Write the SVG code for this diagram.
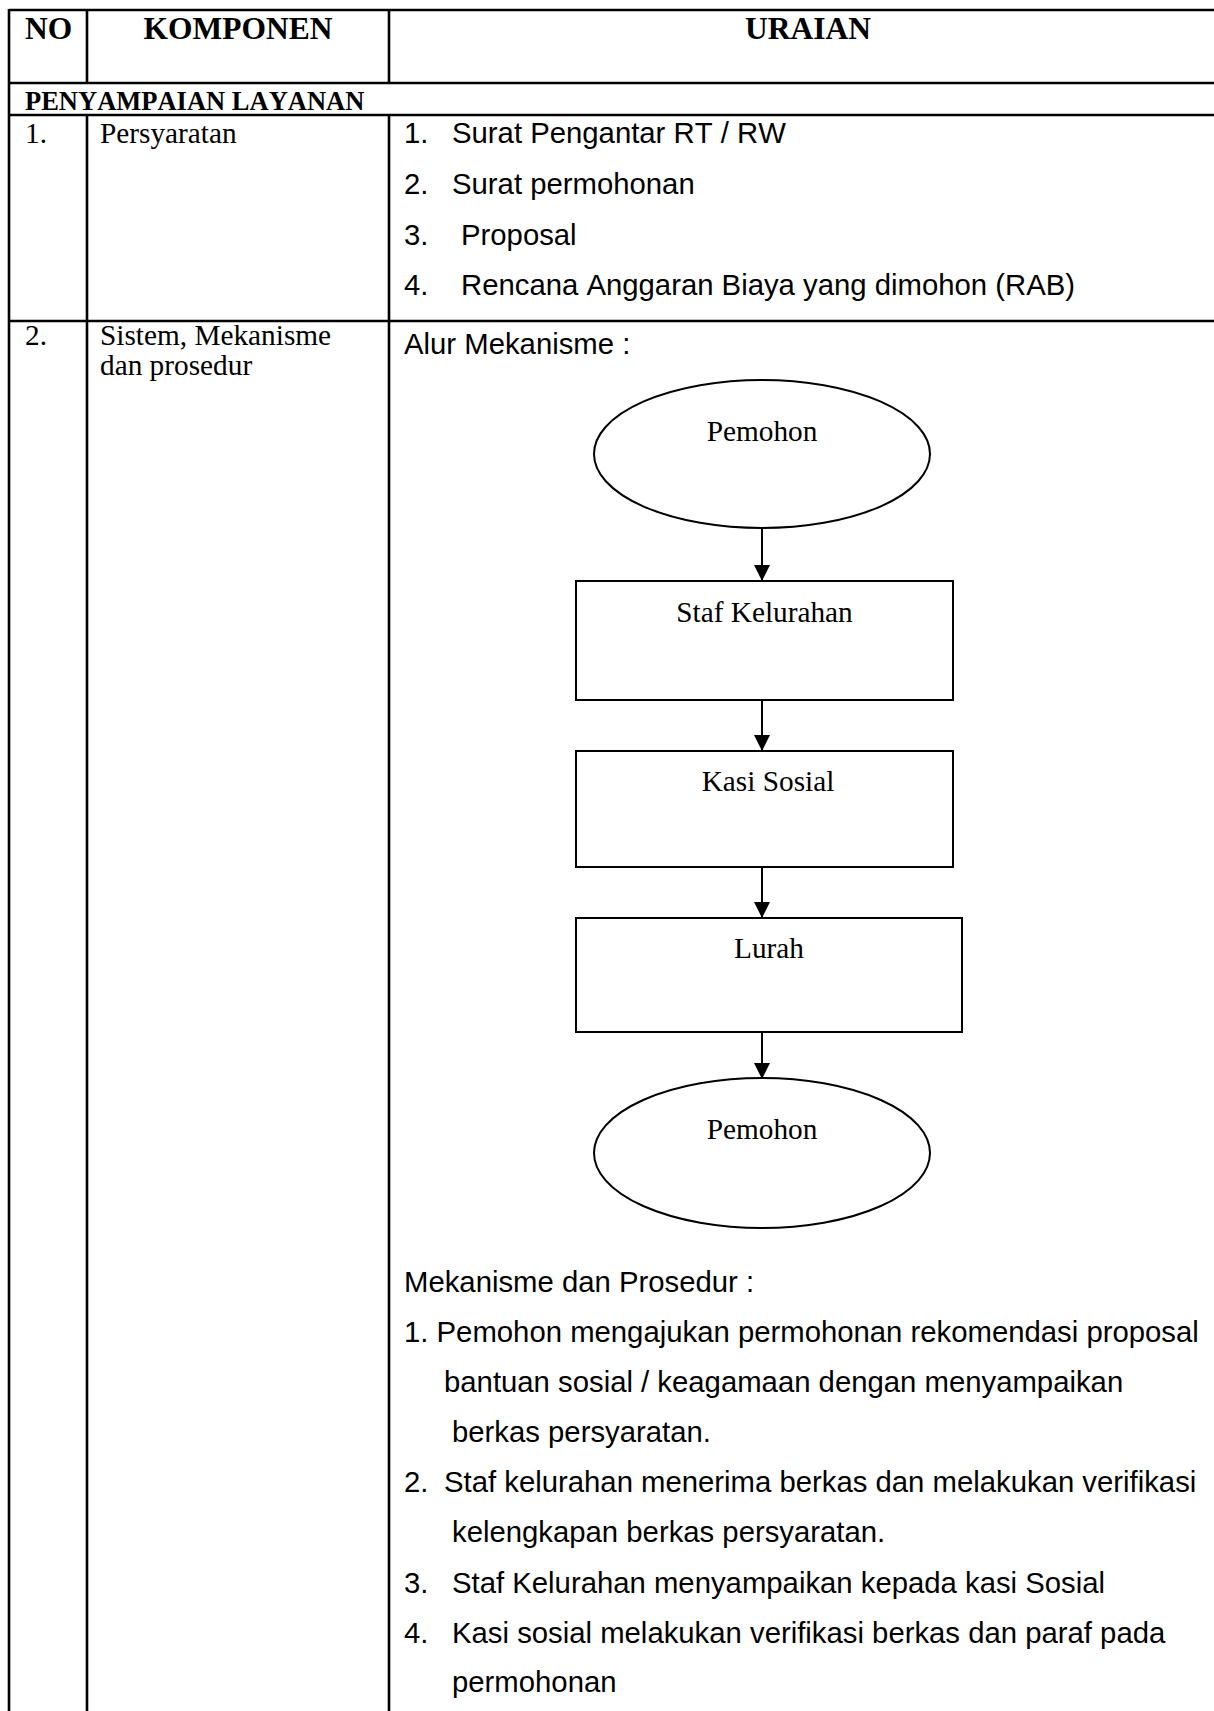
<svg xmlns="http://www.w3.org/2000/svg" width="1214" height="1711" viewBox="0 0 1214 1711">
  <style>
    text { font-kerning: none; fill: #000; }
    .hd { font-family: "Liberation Serif", "Times New Roman", serif; font-weight: bold; font-size: 31.5px; }
    .sec { font-family: "Liberation Serif", "Times New Roman", serif; font-weight: bold; font-size: 26.5px; }
    .tm { font-family: "Liberation Serif", "Times New Roman", serif; font-size: 29.3px; }
    .ar { font-family: "Liberation Sans", Arial, sans-serif; font-size: 29.3px; }
    .grid { stroke: #000; stroke-width: 2.6; fill: none; }
    .shape { stroke: #000; stroke-width: 2; fill: #fff; }
    .flow { stroke: #000; stroke-width: 2; fill: none; }
  </style>
  <defs>
    <marker id="arrowhead" markerUnits="userSpaceOnUse" markerWidth="16" markerHeight="16" refX="16" refY="8" orient="auto">
      <path d="M0,0 L16,8 L0,16 Z" fill="#000"/>
    </marker>
  </defs>

  <rect x="0" y="0" width="1214" height="1711" fill="#fff"/>

  <!-- table rules -->
  <g id="table">
    <line class="grid" x1="9" y1="10" x2="1214" y2="10"/>
    <line class="grid" x1="9" y1="83" x2="1214" y2="83"/>
    <line class="grid" x1="9" y1="115" x2="1214" y2="115"/>
    <line class="grid" x1="9" y1="321" x2="1214" y2="321"/>
    <line class="grid" x1="9" y1="9" x2="9" y2="1711"/>
    <line class="grid" x1="87" y1="10" x2="87" y2="83"/>
    <line class="grid" x1="87" y1="115" x2="87" y2="1711"/>
    <line class="grid" x1="389" y1="10" x2="389" y2="83"/>
    <line class="grid" x1="389" y1="115" x2="389" y2="1711"/>
  </g>

  <!-- header row -->
  <g id="header">
    <text class="hd" x="25" y="39">NO</text>
    <text class="hd" x="238" y="39" text-anchor="middle">KOMPONEN</text>
    <text class="hd" x="808" y="39" text-anchor="middle">URAIAN</text>
  </g>

  <g id="section">
    <text class="sec" x="25" y="110">PENYAMPAIAN LAYANAN</text>
  </g>

  <!-- row 1: requirements -->
  <g id="row-persyaratan">
    <text class="tm" x="25" y="143">1.</text>
    <text class="tm" x="100" y="143">Persyaratan</text>
    <text class="ar" y="143"><tspan x="404">1.</tspan><tspan x="452">Surat Pengantar RT / RW</tspan></text>
    <text class="ar" y="194"><tspan x="404">2.</tspan><tspan x="452">Surat permohonan</tspan></text>
    <text class="ar" y="245"><tspan x="404">3.</tspan><tspan x="461">Proposal</tspan></text>
    <text class="ar" y="295"><tspan x="404">4.</tspan><tspan x="461">Rencana Anggaran Biaya yang dimohon (RAB)</tspan></text>
  </g>

  <!-- row 2: system, mechanism and procedure -->
  <g id="row-sistem">
    <text class="tm" x="25" y="345">2.</text>
    <text class="tm" x="100" y="345">Sistem, Mekanisme</text>
    <text class="tm" x="100" y="375">dan prosedur</text>
    <text class="ar" x="404" y="354">Alur Mekanisme :</text>
  </g>

  <!-- flowchart connectors -->
  <g id="connectors">
    <line class="flow" x1="762" y1="528" x2="762" y2="581" marker-end="url(#arrowhead)"/>
    <line class="flow" x1="762" y1="700" x2="762" y2="751" marker-end="url(#arrowhead)"/>
    <line class="flow" x1="762" y1="867" x2="762" y2="918" marker-end="url(#arrowhead)"/>
    <line class="flow" x1="762" y1="1032" x2="762" y2="1079" marker-end="url(#arrowhead)"/>
  </g>

  <!-- flowchart nodes -->
  <g id="node-pemohon-start">
    <ellipse class="shape" cx="762" cy="454" rx="168" ry="74"/>
    <text class="tm" x="762" y="441" text-anchor="middle">Pemohon</text>
  </g>
  <g id="node-staf-kelurahan">
    <rect class="shape" x="576" y="581" width="377" height="119"/>
    <text class="tm" x="764.5" y="622" text-anchor="middle">Staf Kelurahan</text>
  </g>
  <g id="node-kasi-sosial">
    <rect class="shape" x="576" y="751" width="377" height="116"/>
    <text class="tm" x="768" y="791" text-anchor="middle">Kasi Sosial</text>
  </g>
  <g id="node-lurah">
    <rect class="shape" x="576" y="918" width="386" height="114"/>
    <text class="tm" x="769" y="958" text-anchor="middle">Lurah</text>
  </g>
  <g id="node-pemohon-end">
    <ellipse class="shape" cx="762" cy="1153" rx="168" ry="75"/>
    <text class="tm" x="762" y="1139" text-anchor="middle">Pemohon</text>
  </g>

  <!-- procedure description -->
  <g id="prosedur">
    <text class="ar" x="404" y="1292">Mekanisme dan Prosedur :</text>
    <text class="ar" x="404" y="1342">1. Pemohon mengajukan permohonan rekomendasi proposal</text>
    <text class="ar" x="444" y="1392">bantuan sosial / keagamaan dengan menyampaikan</text>
    <text class="ar" x="452" y="1442">berkas persyaratan.</text>
    <text class="ar" y="1492"><tspan x="404">2.</tspan><tspan x="444">Staf kelurahan menerima berkas dan melakukan verifikasi</tspan></text>
    <text class="ar" x="452" y="1542">kelengkapan berkas persyaratan.</text>
    <text class="ar" y="1593"><tspan x="404">3.</tspan><tspan x="452">Staf Kelurahan menyampaikan kepada kasi Sosial</tspan></text>
    <text class="ar" y="1643"><tspan x="404">4.</tspan><tspan x="452">Kasi sosial melakukan verifikasi berkas dan paraf pada</tspan></text>
    <text class="ar" x="452" y="1692">permohonan</text>
  </g>
</svg>
